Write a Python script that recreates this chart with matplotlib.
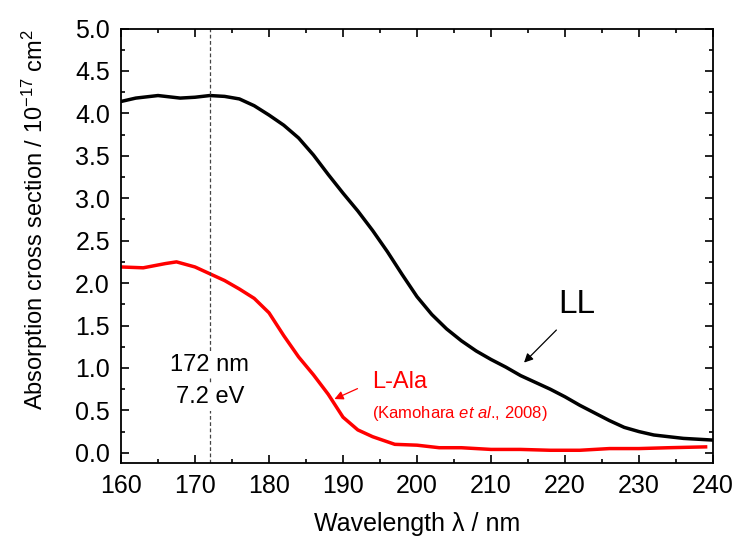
import matplotlib.pyplot as plt
from matplotlib.ticker import MultipleLocator

plt.rcParams['font.family'] = ['Liberation Sans', 'DejaVu Sans']
plt.rcParams['mathtext.fontset'] = 'custom'
plt.rcParams['mathtext.rm'] = 'Liberation Sans'
plt.rcParams['mathtext.it'] = 'Liberation Sans:italic'

# curva LL (negro)
ll_x = [160, 162, 165, 168, 170, 172, 174, 176, 178, 180, 182, 184, 186, 188, 190,
        192, 194, 196, 198, 200, 202, 204, 206, 208, 210, 212, 214, 216, 218, 220,
        222, 224, 226, 228, 230, 232, 234, 236, 238, 240]
ll_y = [4.14, 4.18, 4.21, 4.18, 4.19, 4.21, 4.20, 4.17, 4.09, 3.98, 3.86, 3.71, 3.51, 3.28, 3.06,
        2.85, 2.62, 2.37, 2.10, 1.84, 1.63, 1.46, 1.32, 1.20, 1.10, 1.01, 0.91, 0.83, 0.75, 0.66,
        0.56, 0.47, 0.38, 0.30, 0.25, 0.21, 0.19, 0.17, 0.16, 0.15]

# L-Ala (rojo, Kamohara et al. 2008)
ala_x = [160, 163, 166, 167.5, 170, 172, 174, 176, 178, 180, 182, 184, 186, 188,
         190, 192, 194, 197, 200, 203, 206, 210, 214, 218, 222, 226, 230, 234, 239]
ala_y = [2.19, 2.18, 2.23, 2.25, 2.19, 2.11, 2.03, 1.93, 1.82, 1.65, 1.38, 1.13, 0.92, 0.69,
         0.42, 0.27, 0.19, 0.10, 0.09, 0.06, 0.06, 0.04, 0.04, 0.03, 0.03, 0.05, 0.05, 0.06, 0.07]

fig = plt.figure(figsize=(7.39, 5.46), dpi=100)
ax = fig.add_axes([121 / 739, 1 - 463 / 546, 592 / 739, 434.5 / 546])

ax.plot(ll_x, ll_y, color="black", lw=2.5)
ax.plot(ala_x, ala_y, color="red", lw=2.5)
ax.axvline(172, color="#444444", lw=0.9, ls=(0, (3, 2)))

ax.set_xlim(160, 240)
ax.set_ylim(-0.12, 5.0)
ax.xaxis.set_major_locator(MultipleLocator(10))
ax.xaxis.set_minor_locator(MultipleLocator(5))
ax.yaxis.set_major_locator(MultipleLocator(0.5))
ax.yaxis.set_minor_locator(MultipleLocator(0.25))
ax.yaxis.set_major_formatter(plt.FormatStrFormatter("%.1f"))
ax.tick_params(which="both", direction="in", top=True, right=True, width=1.2)
ax.tick_params(which="major", length=6, labelsize=18, pad=8)
ax.tick_params(which="minor", length=3)
for s in ax.spines.values():
    s.set_linewidth(1.3)

ax.set_xlabel("Wavelength λ / nm", fontsize=18, labelpad=10)
ax.set_ylabel("Absorption cross section / 10$^{-17}$ cm$^{2}$", fontsize=17)
ax.yaxis.set_label_coords(-0.12, 0.56)

caja = dict(facecolor="white", edgecolor="none", pad=2)
ax.text(172.0, 1.04, "172 nm", fontsize=17, ha="center", va="center", bbox=caja)
ax.text(172.0, 0.66, "7.2 eV", fontsize=17, ha="center", va="center", bbox=caja)

ax.text(221.6, 1.75, "LL", fontsize=24, ha="center", va="center")
ax.annotate("", xy=(214.2, 1.04), xytext=(219.1, 1.47),
            arrowprops=dict(arrowstyle="-|>", color="black", lw=0.9, mutation_scale=13))

ax.text(193.9, 0.84, "L-Ala", fontsize=17, color="red", ha="left", va="center")
ax.annotate("", xy=(188.5, 0.62), xytext=(192.3, 0.77),
            arrowprops=dict(arrowstyle="-|>", color="red", lw=0.9, mutation_scale=13))
ax.text(193.9, 0.46, "(Kamohara $\\it{et\\ al}$., 2008)", fontsize=12, color="red",
        ha="left", va="center")

fig.savefig("out.png", dpi=100)
